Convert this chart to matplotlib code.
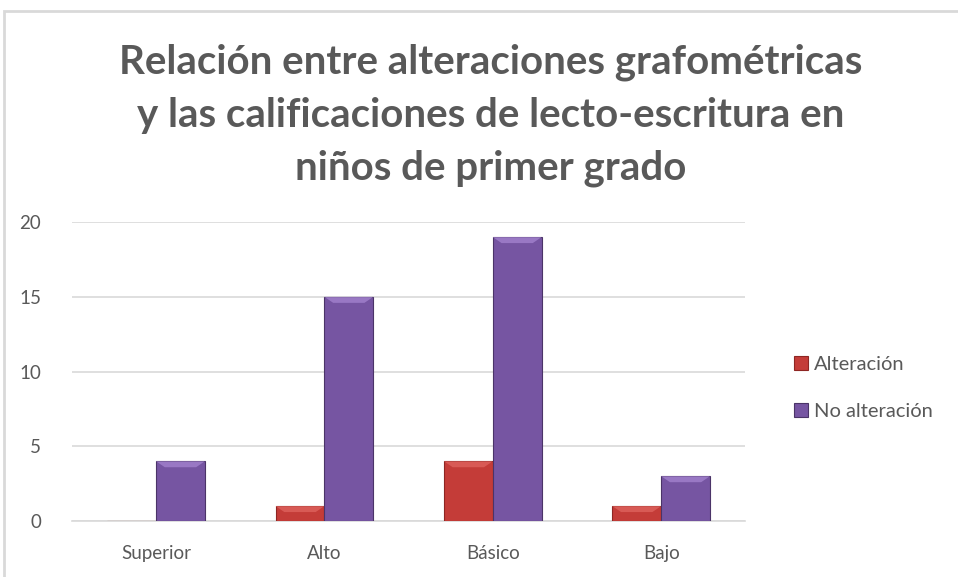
import matplotlib.pyplot as plt
import numpy as np
from matplotlib.patches import Polygon, Rectangle

categories = ['Superior', 'Alto', 'Básico', 'Bajo']
alteracion = [0, 1, 4, 1]
no_alteracion = [4, 15, 19, 3]
series_names = ['Alteración', 'No alteración']
yticks = [0, 5, 10, 15, 20]

plt.rcParams['font.family'] = ['Lato', 'DejaVu Sans']
gray = '#595959'
red, red_top, red_edge = '#C43C38', '#E06560', '#8E2623'
pur, pur_top, pur_edge = '#7655A2', '#A585D0', '#4B3468'

fig = plt.figure(figsize=(9.58, 5.77), dpi=100)
ax = fig.add_axes([0.075, 0.097, 0.703, 0.518])

x = np.arange(len(categories))
w = 0.29
b1 = ax.bar(x - w / 2, alteracion, w, color=red, edgecolor=red_edge, linewidth=0.8,
            label=series_names[0], zorder=3)
b2 = ax.bar(x + w / 2, no_alteracion, w, color=pur, edgecolor=pur_edge, linewidth=0.8,
            label=series_names[1], zorder=3)

# bevel highlight on top of each bar
for bars, top in ((b1, red_top), (b2, pur_top)):
    for r in bars:
        h = r.get_height()
        if h <= 0:
            continue
        x0, wd = r.get_x(), r.get_width()
        d = min(0.4, h * 0.45)
        inset = wd * 0.18
        ax.add_patch(Polygon([(x0, h), (x0 + wd, h), (x0 + wd - inset, h - d), (x0 + inset, h - d)],
                             closed=True, color=top, alpha=0.75, lw=0, zorder=4))

ax.set_xlim(-0.5, len(categories) - 0.5)
ax.set_ylim(0, 20)
ax.set_yticks(yticks)
ax.set_xticks(x)
ax.set_xticklabels(categories)
ax.yaxis.grid(True, color='#D9D9D9', linewidth=1.2, zorder=0)
ax.set_axisbelow(True)
for s in ['top', 'right', 'left']:
    ax.spines[s].set_visible(False)
ax.spines['bottom'].set_color('#D9D9D9')
ax.spines['bottom'].set_linewidth(1.2)
ax.tick_params(axis='both', length=0, colors=gray, labelsize=13.5)
ax.tick_params(axis='y', pad=22)
ax.tick_params(axis='x', pad=17)

fig.suptitle('Relación entre alteraciones grafométricas\ny las calificaciones de lecto-escritura en\nniños de primer grado',
             x=0.512, y=0.924, fontsize=29, fontweight='bold', color=gray, linespacing=1.52)

leg = ax.legend(loc='center left', bbox_to_anchor=(1.045, 0.445), frameon=False, fontsize=14.5,
                labelcolor=gray, handlelength=0.7, handleheight=0.7, handletextpad=0.3,
                labelspacing=1.5)

# chart frame
fig.add_artist(Rectangle((4 / 958, -0.1), 1.2, 1 - 11 / 577 + 0.1, transform=fig.transFigure,
                         fill=False, edgecolor='#D9D9D9', linewidth=2))

fig.savefig('out.png', dpi=100)
